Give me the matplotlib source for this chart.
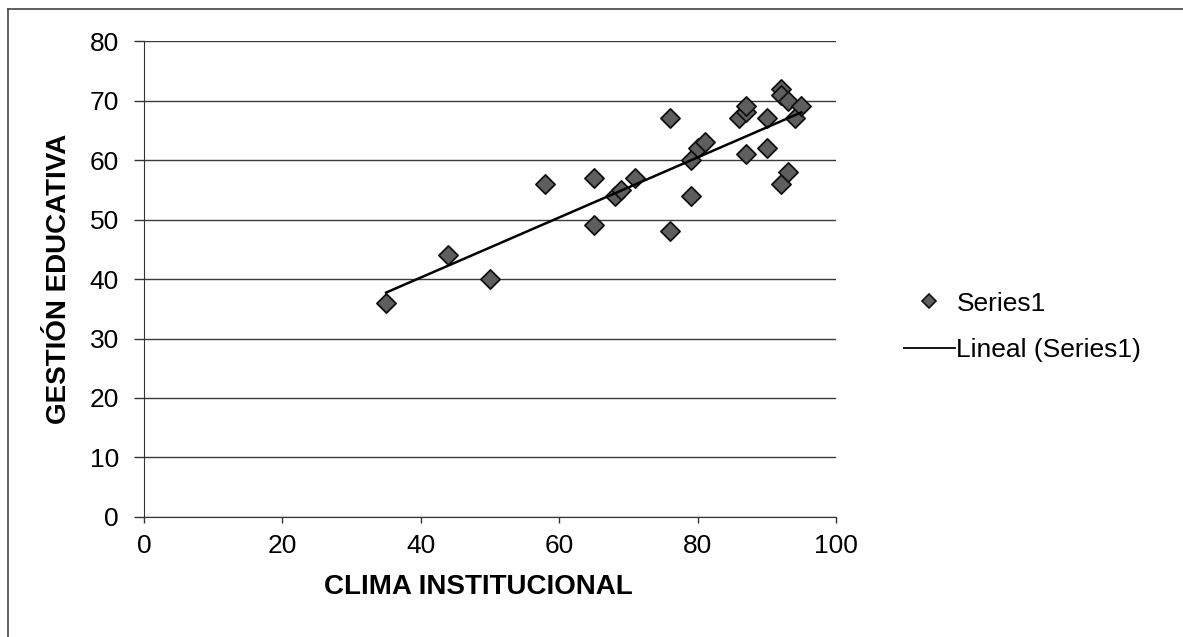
import numpy as np
import matplotlib
matplotlib.use("Agg")
import matplotlib.pyplot as plt
from matplotlib.lines import Line2D

plt.rcParams["font.family"] = ["Liberation Sans", "DejaVu Sans"]

# clima institucional vs gestion educativa
clima = [35, 44, 50, 58, 65, 65, 68, 69, 71, 76, 76, 79, 79, 80, 81,
         86, 87, 87, 87, 90, 90, 92, 92, 92, 93, 93, 94, 95]
gestion = [36, 44, 40, 56, 57, 49, 54, 55, 57, 67, 48, 54, 60, 62, 63,
           67, 68, 69, 61, 67, 62, 72, 71, 56, 70, 58, 67, 69]
xticks = [0, 20, 40, 60, 80, 100]
yticks = [0, 10, 20, 30, 40, 50, 60, 70, 80]

fig = plt.figure(figsize=(11.83, 6.37), dpi=100)
ax = fig.add_axes([0.1217, 0.1884, 0.585, 0.7472])

# horizontal grid
for yv in yticks:
    ax.axhline(yv, color="#3a3a3a", lw=1.0, zorder=1)

ax.scatter(clima, gestion, marker="D", s=95, facecolor="#5e5e5e",
           edgecolor="#111111", linewidth=1.3, zorder=3)

# linear trend
slope, inter = np.polyfit(clima, gestion, 1)
xs = np.array([min(clima), max(clima)])
ax.plot(xs, slope * xs + inter, color="black", lw=1.8, zorder=4)

ax.set_xlim(0, 100)
ax.set_ylim(0, 80)
ax.set_xticks(xticks)
ax.set_yticks(yticks)
ax.tick_params(axis="both", labelsize=19, direction="out", color="#333333", width=1)
ax.tick_params(axis="x", length=4, pad=8)
ax.tick_params(axis="y", length=7, pad=11)
for s in ["top", "right"]:
    ax.spines[s].set_visible(False)
ax.spines["left"].set_color("#333333")
ax.spines["bottom"].set_color("#333333")

ax.set_xlabel("CLIMA INSTITUCIONAL", fontsize=20, fontweight="bold", labelpad=12)
ax.xaxis.label.set_x(0.483)
ax.set_ylabel("GESTIÓN EDUCATIVA", fontsize=20, fontweight="bold", labelpad=13)

handles = [
    Line2D([], [], marker="D", ls="none", markersize=7, markerfacecolor="#5e5e5e",
           markeredgecolor="#111111", markeredgewidth=1.2),
    Line2D([], [], color="black", lw=1.3),
]
fig.legend(handles, ["Series1", "Lineal (Series1)"], loc="center left",
           bbox_to_anchor=(0.755, 0.487), frameon=False, fontsize=19,
           handlelength=1.95, handletextpad=0.05, labelspacing=0.85,
           borderaxespad=0)

# outer chart border
fig.add_artist(Line2D([0.007, 0.007], [0.0, 0.986], transform=fig.transFigure,
                      color="#444444", lw=1.2))
fig.add_artist(Line2D([0.007, 1.0], [0.986, 0.986], transform=fig.transFigure,
                      color="#444444", lw=1.2))

fig.savefig("out.png", dpi=100)
